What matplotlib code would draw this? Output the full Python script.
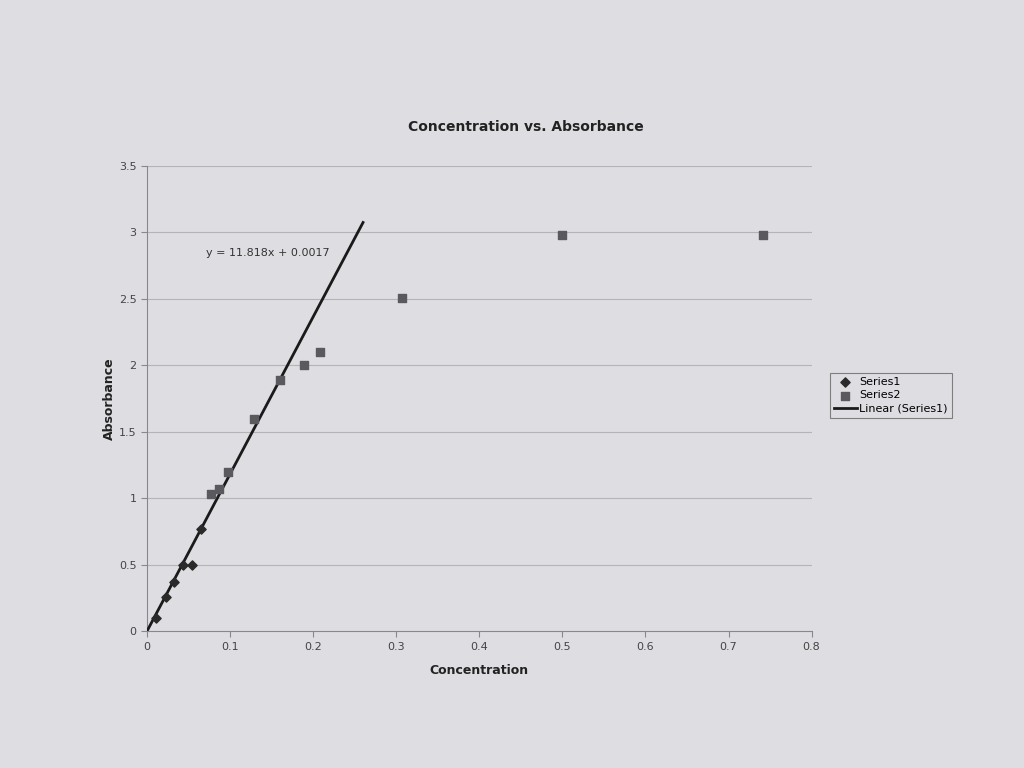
import matplotlib
matplotlib.use("Agg")
import matplotlib.pyplot as plt
import numpy as np

s1_x = [0.011, 0.023, 0.033, 0.043, 0.054, 0.065]
s1_y = [0.10, 0.26, 0.37, 0.50, 0.50, 0.77]
s2_x = [0.077, 0.087, 0.097, 0.129, 0.160, 0.189, 0.208, 0.307, 0.500, 0.742]
s2_y = [1.03, 1.07, 1.20, 1.60, 1.89, 2.00, 2.10, 2.51, 2.98, 2.98]
slope, intercept = 11.818, 0.0017
trend_x = [0.0, 0.26]
x_ticks = [0, 0.1, 0.2, 0.3, 0.4, 0.5, 0.6, 0.7, 0.8]
y_ticks = [0, 0.5, 1, 1.5, 2, 2.5, 3, 3.5]

fig = plt.figure(figsize=(10.24, 7.68), dpi=100)
fig.patch.set_facecolor("#dedde2")
ax = fig.add_axes([0.1436, 0.178, 0.649, 0.606])
ax.set_facecolor("#dedde2")

for yt in y_ticks[1:]:
    ax.axhline(yt, color="#b4b4b8", lw=0.8, zorder=0)

tx = np.array(trend_x)
ax.plot(tx, slope * tx + intercept, color="#1a1a1a", lw=2, label="Linear (Series1)", zorder=3)
ax.scatter(s1_x, s1_y, marker="D", s=22, color="#2a2a2a", label="Series1", zorder=4)
ax.scatter(s2_x, s2_y, marker="s", s=26, color="#5a5a5e", label="Series2", zorder=4)

ax.set_xlim(0, 0.8)
ax.set_ylim(0, 3.5)
ax.set_xticks(x_ticks)
ax.set_xticklabels(["0", "0.1", "0.2", "0.3", "0.4", "0.5", "0.6", "0.7", "0.8"])
ax.set_yticks(y_ticks)
ax.set_yticklabels(["0", "0.5", "1", "1.5", "2", "2.5", "3", "3.5"])
ax.tick_params(colors="#444444", labelsize=8, length=4, color="#888888")
for sp in ["top", "right"]:
    ax.spines[sp].set_visible(False)
for sp in ["left", "bottom"]:
    ax.spines[sp].set_color("#888888")

ax.set_xlabel("Concentration", fontsize=9, fontweight="bold", color="#222222", labelpad=9)
ax.set_ylabel("Absorbance", fontsize=9, fontweight="bold", color="#222222", labelpad=2)
fig.text(0.514, 0.834, "Concentration vs. Absorbance", ha="center", va="center",
         fontsize=10, fontweight="bold", color="#222222")
ax.text(0.071, 2.82, "y = 11.818x + 0.0017", fontsize=8, color="#333333")

h, l = ax.get_legend_handles_labels()
order = [1, 2, 0]
leg = fig.legend([h[i] for i in order], [l[i] for i in order],
                 loc="upper left", bbox_to_anchor=(0.805, 0.522),
                 fontsize=8, frameon=True, fancybox=False, edgecolor="#666666",
                 facecolor="#dedde2", handlelength=2.0, borderpad=0.4, labelspacing=0.3,
                 handletextpad=0.2)
leg.get_frame().set_linewidth(0.8)

fig.savefig("out.png", dpi=100, facecolor=fig.get_facecolor())
